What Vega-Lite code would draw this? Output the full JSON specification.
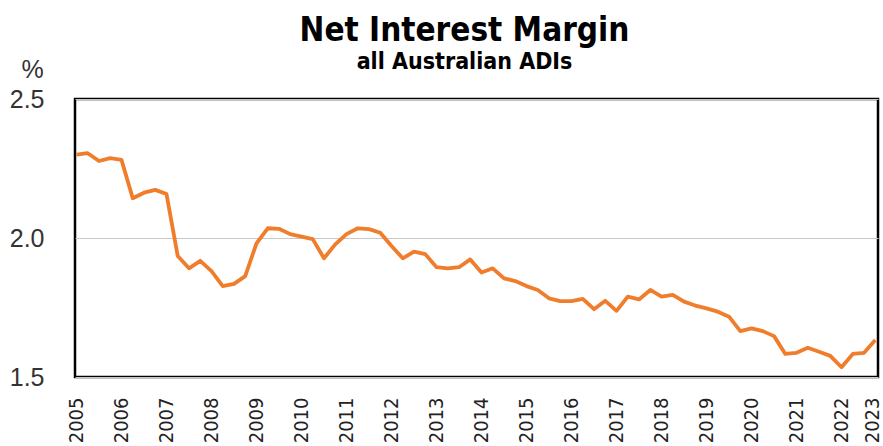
{
  "$schema": "https://vega.github.io/schema/vega-lite/v6.json",
  "autosize": {"type": "none"},
  "width": 803,
  "height": 278,
  "padding": {"left": 75, "top": 99, "right": 5, "bottom": 69},
  "background": "white",
  "title": {
    "text": "Net Interest Margin",
    "subtitle": "all Australian ADIs",
    "anchor": "middle",
    "frame": "group",
    "dx": -12,
    "offset": -17,
    "font": "DejaVu Sans Condensed",
    "fontSize": 33,
    "fontWeight": "bold",
    "color": "#000000",
    "subtitleFont": "DejaVu Sans Condensed",
    "subtitleFontSize": 23,
    "subtitleFontWeight": "bold",
    "subtitleColor": "#000000",
    "subtitlePadding": 3
  },
  "config": {
    "view": {"stroke": "#000000", "strokeWidth": 2.5},
    "axis": {"domain": false, "ticks": false, "labelOverlap": false}
  },
  "data": {
    "values": [
      {"t": 2005.00, "v": 2.300}, {"t": 2005.25, "v": 2.305}, {"t": 2005.50, "v": 2.277}, {"t": 2005.75, "v": 2.287},
      {"t": 2006.00, "v": 2.281}, {"t": 2006.25, "v": 2.143}, {"t": 2006.50, "v": 2.163}, {"t": 2006.75, "v": 2.173},
      {"t": 2007.00, "v": 2.158}, {"t": 2007.25, "v": 1.935}, {"t": 2007.50, "v": 1.891}, {"t": 2007.75, "v": 1.918},
      {"t": 2008.00, "v": 1.881}, {"t": 2008.25, "v": 1.827}, {"t": 2008.50, "v": 1.835}, {"t": 2008.75, "v": 1.863},
      {"t": 2009.00, "v": 1.981}, {"t": 2009.25, "v": 2.035}, {"t": 2009.50, "v": 2.033}, {"t": 2009.75, "v": 2.014},
      {"t": 2010.00, "v": 2.005}, {"t": 2010.25, "v": 1.996}, {"t": 2010.50, "v": 1.927}, {"t": 2010.75, "v": 1.977},
      {"t": 2011.00, "v": 2.014}, {"t": 2011.25, "v": 2.035}, {"t": 2011.50, "v": 2.032}, {"t": 2011.75, "v": 2.019},
      {"t": 2012.00, "v": 1.971}, {"t": 2012.25, "v": 1.927}, {"t": 2012.50, "v": 1.951}, {"t": 2012.75, "v": 1.942},
      {"t": 2013.00, "v": 1.895}, {"t": 2013.25, "v": 1.891}, {"t": 2013.50, "v": 1.895}, {"t": 2013.75, "v": 1.923},
      {"t": 2014.00, "v": 1.876}, {"t": 2014.25, "v": 1.891}, {"t": 2014.50, "v": 1.855}, {"t": 2014.75, "v": 1.845},
      {"t": 2015.00, "v": 1.827}, {"t": 2015.25, "v": 1.813}, {"t": 2015.50, "v": 1.783}, {"t": 2015.75, "v": 1.773},
      {"t": 2016.00, "v": 1.773}, {"t": 2016.25, "v": 1.781}, {"t": 2016.50, "v": 1.744}, {"t": 2016.75, "v": 1.774},
      {"t": 2017.00, "v": 1.738}, {"t": 2017.25, "v": 1.789}, {"t": 2017.50, "v": 1.779}, {"t": 2017.75, "v": 1.813},
      {"t": 2018.00, "v": 1.789}, {"t": 2018.25, "v": 1.795}, {"t": 2018.50, "v": 1.771}, {"t": 2018.75, "v": 1.757},
      {"t": 2019.00, "v": 1.747}, {"t": 2019.25, "v": 1.735}, {"t": 2019.50, "v": 1.717}, {"t": 2019.75, "v": 1.665},
      {"t": 2020.00, "v": 1.675}, {"t": 2020.25, "v": 1.665}, {"t": 2020.50, "v": 1.647}, {"t": 2020.75, "v": 1.583},
      {"t": 2021.00, "v": 1.587}, {"t": 2021.25, "v": 1.605}, {"t": 2021.50, "v": 1.591}, {"t": 2021.75, "v": 1.576},
      {"t": 2022.00, "v": 1.535}, {"t": 2022.25, "v": 1.583}, {"t": 2022.50, "v": 1.587}, {"t": 2022.75, "v": 1.633}
    ]
  },
  "mark": {"type": "line", "color": "#f07d2b", "strokeWidth": 3.8, "strokeJoin": "round", "clip": true},
  "encoding": {
    "x": {
      "field": "t",
      "type": "quantitative",
      "scale": {"domain": [2004.967, 2022.81], "nice": false, "zero": false},
      "axis": {
        "title": null,
        "grid": false,
        "values": [2005, 2006, 2007, 2008, 2009, 2010, 2011, 2012, 2013, 2014, 2015, 2016, 2017, 2018, 2019, 2020, 2021, 2022, 2022.68],
        "tickCount": 100,
        "tickMinStep": 0.01,
        "labelExpr": "format(round(datum.value), 'd')",
        "labelAngle": -90,
        "labelAlign": "right",
        "labelBaseline": "middle",
        "labelPadding": 20,
        "labelFont": "DejaVu Sans Condensed",
        "labelFontSize": 20,
        "labelColor": "#222222",
        "labelOverlap": false,
        "labelBound": false,
        "labelFlush": false
      }
    },
    "y": {
      "field": "v",
      "type": "quantitative",
      "scale": {"domain": [1.5, 2.5], "nice": false, "zero": false},
      "axis": {
        "title": "%",
        "titleAngle": 0,
        "titleAlign": "center",
        "titleBaseline": "alphabetic",
        "titleX": -43,
        "titleY": -22,
        "titleFont": "Liberation Sans, Arial, sans-serif",
        "titleFontSize": 25,
        "titleFontWeight": "normal",
        "titleColor": "#333333",
        "values": [1.5, 2.0, 2.5],
        "format": ".1f",
        "grid": true,
        "gridColor": "#c8c8c8",
        "gridWidth": 1.2,
        "labelPadding": 31,
        "labelFont": "Liberation Sans, Arial, sans-serif",
        "labelFontSize": 25,
        "labelColor": "#333333",
        "labelOverlap": false,
        "labelFlush": false
      }
    }
  }
}
